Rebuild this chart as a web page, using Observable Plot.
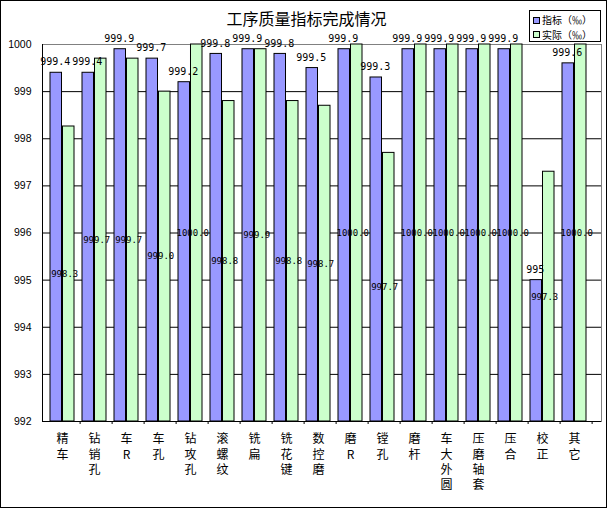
<!DOCTYPE html>
<html><head><meta charset="utf-8">
<script src="https://cdn.jsdelivr.net/npm/d3@7"></script>
<script src="https://cdn.jsdelivr.net/npm/@observablehq/plot@0.6"></script>
<style>
body{margin:0;background:#fff}
#wrap{position:relative;width:607px;height:508px;overflow:hidden;background:#fff}
#chart{position:absolute;left:0;top:0}
#border{position:absolute;left:0;top:0;width:607px;height:508px;box-sizing:border-box;border:1px solid #000;pointer-events:none}
#title{position:absolute;left:3px;width:607px;top:10px;text-align:center;font:16px/16px "Noto Sans CJK SC";color:#000;white-space:nowrap}
#legend{position:absolute;left:529px;top:10px;width:72px;height:32px;box-sizing:border-box;border:1px solid #000;background:#fff;padding-top:2px;font:10px "Noto Sans CJK SC";color:#000}
#legend .row{height:14.5px;line-height:14.5px;white-space:nowrap;display:flex;align-items:center}
#legend .sw{display:inline-block;width:7px;height:7px;box-sizing:border-box;border:1px solid #000;margin-left:3px;margin-right:2px}
</style></head><body>
<div id="wrap"><div id="chart"></div><div id="title">工序质量指标完成情况</div><div id="legend"></div><div id="border"></div></div>
<script>
const categories = ["精车","钻销孔","车R","车孔","钻攻孔","滚螺纹","铣扁","铣花键","数控磨","磨R","镗孔","磨杆","车大外圆","压磨轴套","压合","校正","其它"];
const targetValues = [999.4,999.4,999.9,999.7,999.2,999.8,999.9,999.8,999.5,999.9,999.3,999.9,999.9,999.9,999.9,995,999.6];
const actualValues = [998.26,999.7,999.7,999.0,1000.0,998.8,999.9,998.8,998.7,1000.0,997.7,1000.0,1000.0,1000.0,1000.0,997.3,1000.0];
const yTicks = [992,993,994,995,996,997,998,999,1000];
const seriesNames = ["指标（‰）","实际（‰）"];
const seriesColors = ["#9999FF","#CCFFCC"];

const W=607,H=508,mL=42,mR=6,mT=44,mB=87;
const pIn=0.24,pOut=0.12,align=0.35;
const n=categories.length;
const step=(W-mL-mR)/(n-pIn+2*pOut);
const bw=step*(1-pIn);
const off=(W-mL-mR-step*(n-pIn))*align;
const base=yTicks[0];
const rows=categories.map((c,i)=>({cat:c,target:targetValues[i],actual:actualValues[i]}));

const plot=Plot.plot({
  width:W,height:H,marginLeft:mL,marginRight:mR,marginTop:mT,marginBottom:mB,
  style:{background:"transparent",overflow:"visible",color:"#000"},
  x:{type:"band",domain:categories,paddingInner:pIn,paddingOuter:pOut,align:align,label:null},
  y:{domain:[yTicks[0],yTicks[yTicks.length-1]],label:null},
  marks:[
    Plot.frame({stroke:"#808080"}),
    Plot.ruleY(yTicks.slice(1,-1),{stroke:"#000"}),
    Plot.barY(rows,{x:"cat",y1:()=>base,y2:"target",fill:seriesColors[0],stroke:"#000",strokeWidth:1,insetRight:bw/2}),
    Plot.barY(rows,{x:"cat",y1:()=>base,y2:"actual",fill:seriesColors[1],stroke:"#000",strokeWidth:1,insetLeft:bw/2}),
    Plot.frame({anchor:"left",stroke:"#000"}),
    Plot.ruleY([base],{stroke:"#000"}),
    Plot.axisY(yTicks,{tickSize:0,tickPadding:11,tickFormat:d=>String(d),fontSize:10.5,fontFamily:"Liberation Sans, Arial, sans-serif",label:null}),
    Plot.axisX({tickSize:3,tickFormat:()=>"",dx:step-off-bw/2,label:null}),
    Plot.axisX({tickSize:0,tickPadding:11,tickFormat:d=>Array.from(d).join("\n"),fontSize:12,lineHeight:1.28,fontFamily:"Noto Sans CJK SC",label:null}),
    Plot.text(rows,{x:"cat",y:"target",text:d=>String(d.target),dx:-bw/4-1,dy:-10.5,fontFamily:"DejaVu Sans Mono",fontSize:10,fill:"#000"}),
    Plot.text(rows,{x:"cat",y:d=>(base+d.actual)/2,text:d=>d.actual.toFixed(1),dx:bw/4-4,fontFamily:"DejaVu Sans Mono",fontSize:9,fill:"#000"})
  ]
});
document.getElementById("chart").appendChild(plot);

const legend=document.getElementById("legend");
seriesNames.forEach((name,i)=>{
  const row=document.createElement("div");row.className="row";
  const sw=document.createElement("span");sw.className="sw";sw.style.background=seriesColors[i];
  const t=document.createElement("span");t.textContent=name;
  row.appendChild(sw);row.appendChild(t);legend.appendChild(row);
});
</script>
</body></html>
